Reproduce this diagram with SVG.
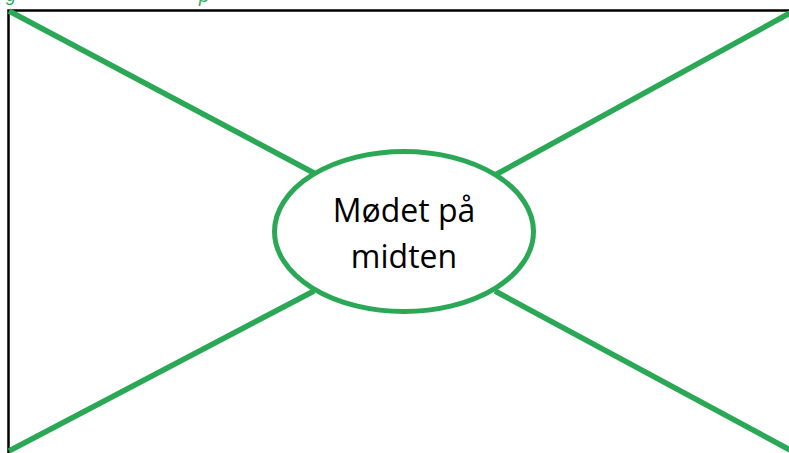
<svg xmlns="http://www.w3.org/2000/svg" width="789" height="453" viewBox="0 0 789 453">
<style>
.c{stroke:#2AA856;stroke-width:5.5;fill:none;stroke-linecap:butt}
.t{font-family:"Open Sans","Liberation Sans",sans-serif;font-size:32px;fill:#000;text-anchor:middle}
.cap{font-family:"Liberation Sans",sans-serif;font-style:italic;font-size:18px;fill:#2AA856}
</style>
<rect x="0" y="0" width="789" height="453" fill="#fff"/>
<text class="cap" x="6" y="0.5">g</text>
<text class="cap" x="199" y="1.5">p</text>
<path d="M8.5 453 V10.5 H789" stroke="#000" stroke-width="2.5" fill="none"/>
<g id="connectors">
<line class="c" x1="9" y1="11" x2="314" y2="173"/>
<line class="c" x1="790" y1="13" x2="495" y2="175"/>
<line class="c" x1="9" y1="451" x2="314" y2="291"/>
<line class="c" x1="790" y1="450" x2="495" y2="291"/>
</g>
<g id="center">
<ellipse cx="404" cy="231.5" rx="129.5" ry="80" fill="#fff" stroke="#2AA856" stroke-width="5"/>
<text class="t" x="404" y="222">Mødet på</text>
<text class="t" x="404" y="268">midten</text>
</g>
</svg>
